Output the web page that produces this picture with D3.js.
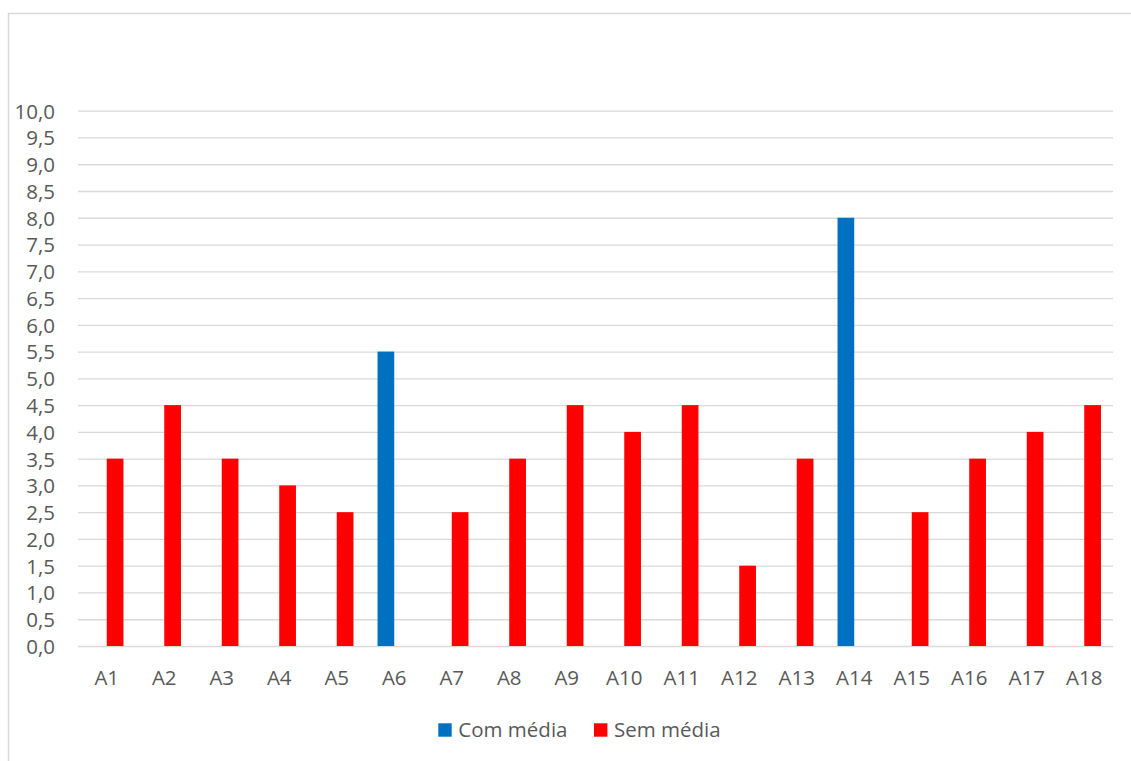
<!DOCTYPE html>
<html>
<head>
<meta charset="utf-8">
<script src="https://cdn.jsdelivr.net/npm/d3@7"></script>
<style>
  html, body { margin: 0; padding: 0; background: #fff; }
  svg { display: block; }
  svg text { font-family: "Open Sans", "Noto Sans", sans-serif; }
</style>
</head>
<body>
<svg id="chart" width="1131" height="761"></svg>
<script>
// Categories and series values
const categories = ["A1","A2","A3","A4","A5","A6","A7","A8","A9","A10","A11","A12","A13","A14","A15","A16","A17","A18"];
const seriesNames = ["Com média", "Sem média"];
const comMedia = [null,null,null,null,null,5.5,null,null,null,null,null,null,null,8.0,null,null,null,null];
const semMedia = [3.5,4.5,3.5,3.0,2.5,null,2.5,3.5,4.5,4.0,4.5,1.5,3.5,null,2.5,3.5,4.0,4.5];
const yTicks = d3.range(0, 10.01, 0.5);
const colors = ["#0070C0", "#FF0000"];

const FONT = '"Open Sans", "Noto Sans", sans-serif';
const FS = 20.5;
const svg = d3.select("#chart");
const W = 1131, H = 761;
const plot = { left: 78, right: 1113, top: 110.7, bottom: 646 };

// Outer chart frame
svg.append("rect")
  .attr("x", 8.5).attr("y", 13.5)
  .attr("width", W + 20).attr("height", H + 20)
  .attr("fill", "none").attr("stroke", "#d9d9d9").attr("stroke-width", 1.5);

const x = d3.scaleBand().domain(categories).range([plot.left, plot.right]).padding(0);
const xs = d3.scaleBand().domain(seriesNames).range([0, x.bandwidth()])
  .paddingInner(0).paddingOuter(0.72);
const y = d3.scaleLinear().domain([0, 10]).range([plot.bottom, plot.top]);

// Horizontal gridlines
const yAxis = d3.axisLeft(y).tickValues(yTicks)
  .tickSize(-(plot.right - plot.left))
  .tickFormat(d => d3.format(".1f")(d).replace(".", ","));
const gy = svg.append("g").attr("transform", `translate(${plot.left},0)`).call(yAxis)
  .attr("font-family", FONT);
gy.select(".domain").remove();
gy.selectAll(".tick line").attr("stroke", "#d9d9d9").attr("stroke-width", 1.3);
gy.selectAll(".tick text")
  .attr("x", -23).attr("dy", "0.36em")
  .attr("fill", "#595959").attr("font-size", FS);

// Bars
const seriesData = [comMedia, semMedia];
seriesData.forEach((vals, si) => {
  svg.append("g").selectAll("rect")
    .data(categories.map((c, i) => ({ c, v: vals[i] })).filter(d => d.v != null))
    .join("rect")
    .attr("x", d => x(d.c) + xs(seriesNames[si]))
    .attr("width", xs.bandwidth())
    .attr("y", d => y(d.v))
    .attr("height", d => y(0) - y(d.v))
    .attr("fill", colors[si]);
});

// Category labels
const xAxis = d3.axisBottom(x).tickSize(0);
const gx = svg.append("g").attr("transform", `translate(0,${plot.bottom})`).call(xAxis)
  .attr("font-family", FONT);
gx.select(".domain").remove();
gx.selectAll(".tick text")
  .attr("y", 39).attr("dy", 0)
  .attr("fill", "#595959").attr("font-size", FS);

// Legend
const legend = svg.append("g").attr("font-family", FONT);
const legendItems = [
  { name: seriesNames[0], color: colors[0], x: 438.3 },
  { name: seriesNames[1], color: colors[1], x: 594 }
];
legendItems.forEach(it => {
  legend.append("rect").attr("x", it.x).attr("y", 723.3)
    .attr("width", 13.4).attr("height", 13.4).attr("fill", it.color);
  legend.append("text").attr("x", it.x + 20).attr("y", 737)
    .attr("fill", "#595959").attr("font-size", FS).text(it.name);
});
</script>
</body>
</html>
